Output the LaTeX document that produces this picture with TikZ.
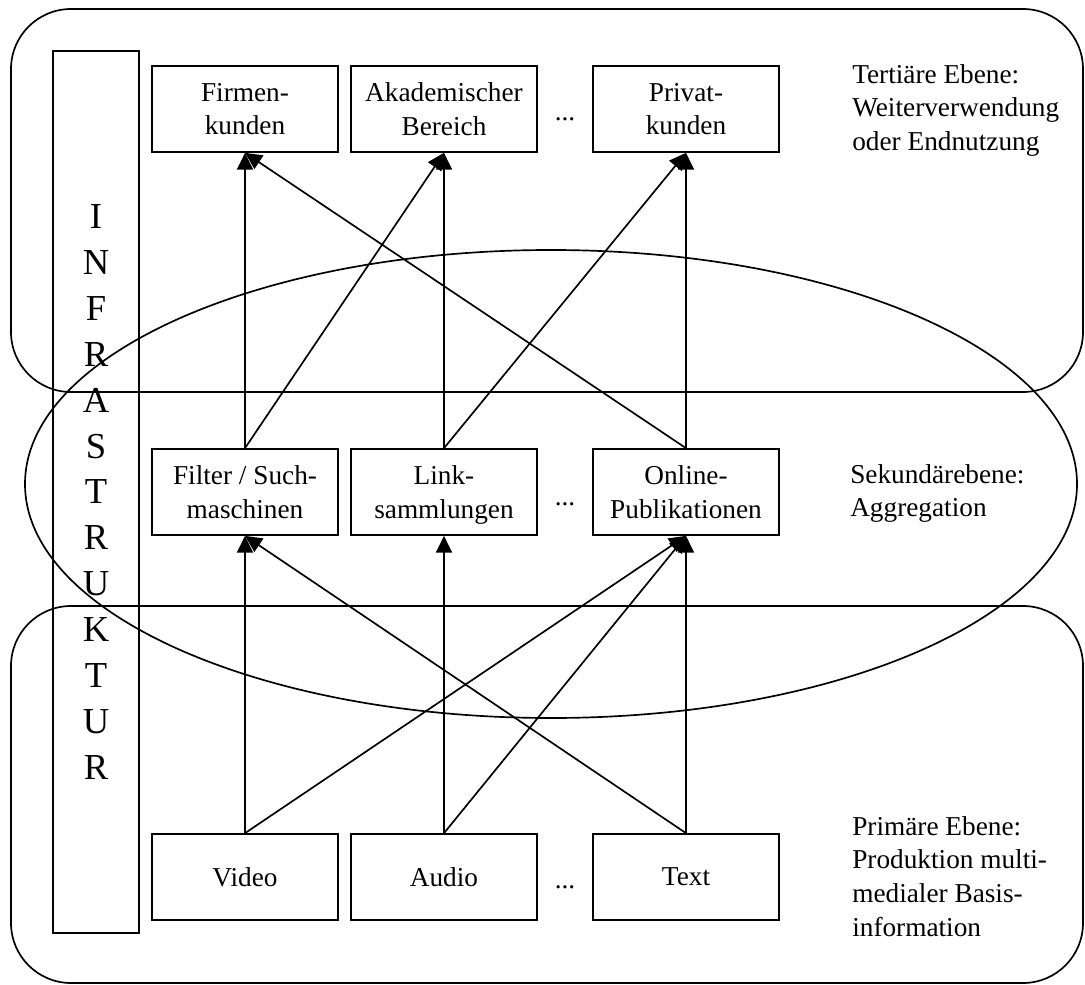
\documentclass[tikz,border=0pt]{standalone}
\usepackage{fontspec}
\setmainfont{Liberation Serif}
\usetikzlibrary{arrows.meta}
\tikzset{
  ebox/.style={draw, line width=1.2pt, minimum width=4.65cm, minimum height=2.15cm, inner sep=0pt, text depth=0pt, align=center, font=\fontsize{19.4}{24}\selectfont},
  flow/.style={line width=1.2pt, -{Triangle[length=0.42cm, width=0.4cm]}},
  frame/.style={line width=1.2pt},
  ebene/.style={inner sep=0pt, align=left, anchor=north west, font=\fontsize{19.4}{24}\selectfont},
  dots/.style={inner sep=0pt, anchor=base, font=\fontsize{19.4}{24}\selectfont},
}
\begin{document}
\begin{tikzpicture}[x=0.025cm, y=-0.025cm]
  \useasboundingbox (0,0) rectangle (1085,985);
  \draw[frame, rounded corners=1.5cm] (11,9) rectangle (1083,392);
  \draw[frame, rounded corners=1.5cm] (11,606) rectangle (1083,983);
  \draw[frame] (551,484) ellipse [x radius=526, y radius=234];
  \node[draw, line width=1.2pt, minimum width=2.15cm, minimum height=22.05cm, inner sep=0pt, align=center, font=\fontsize{26}{32.6}\selectfont] (infra) at(96,492){I\\N\\F\\R\\A\\S\\T\\R\\U\\K\\T\\U\\R};
  \node[ebox] (firmen) at(245,109){Firmen-\\kunden};
  \node[ebox] (akadem) at(444,109){Akademischer\\Bereich};
  \node[ebox] (privat) at(686,109){Privat-\\kunden};
  \node[ebox] (filter) at(245,492){Filter / Such-\\maschinen};
  \node[ebox] (link) at(444,492){Link-\\sammlungen};
  \node[ebox] (online) at(686,492){Online-\\Publikationen};
  \node[ebox] (video) at(245,877){Video};
  \node[ebox] (audio) at(444,877){Audio};
  \node[ebox] (text) at(686,877){Text};
  \node[dots] (dotsoben) at(565,121){...};
  \node[dots] (dotsmitte) at(565,505){...};
  \node[dots] (dotsunten) at(565,888){...};
  \node[ebene] (tertiaer) at(852,64){Tertiäre Ebene:\\Weiterverwendung\\oder Endnutzung};
  \node[ebene] (sekundaer) at(850,464){Sekundärebene:\\Aggregation};
  \node[ebene] (primaer) at(852,816){Primäre Ebene:\\Produktion multi-\\medialer Basis-\\information};
  \draw[flow] (filter.north) -- (firmen.south);
  \draw[flow] (filter.north) -- (akadem.south);
  \draw[flow] (link.north) -- (akadem.south);
  \draw[flow] (link.north) -- (privat.south);
  \draw[flow] (online.north) -- (privat.south);
  \draw[flow] (online.north) -- (firmen.south);
  \draw[flow] (video.north) -- (filter.south);
  \draw[flow] (video.north) -- (online.south);
  \draw[flow] (audio.north) -- (link.south);
  \draw[flow] (audio.north) -- (online.south);
  \draw[flow] (text.north) -- (online.south);
  \draw[flow] (text.north) -- (filter.south);
\end{tikzpicture}
\end{document}
